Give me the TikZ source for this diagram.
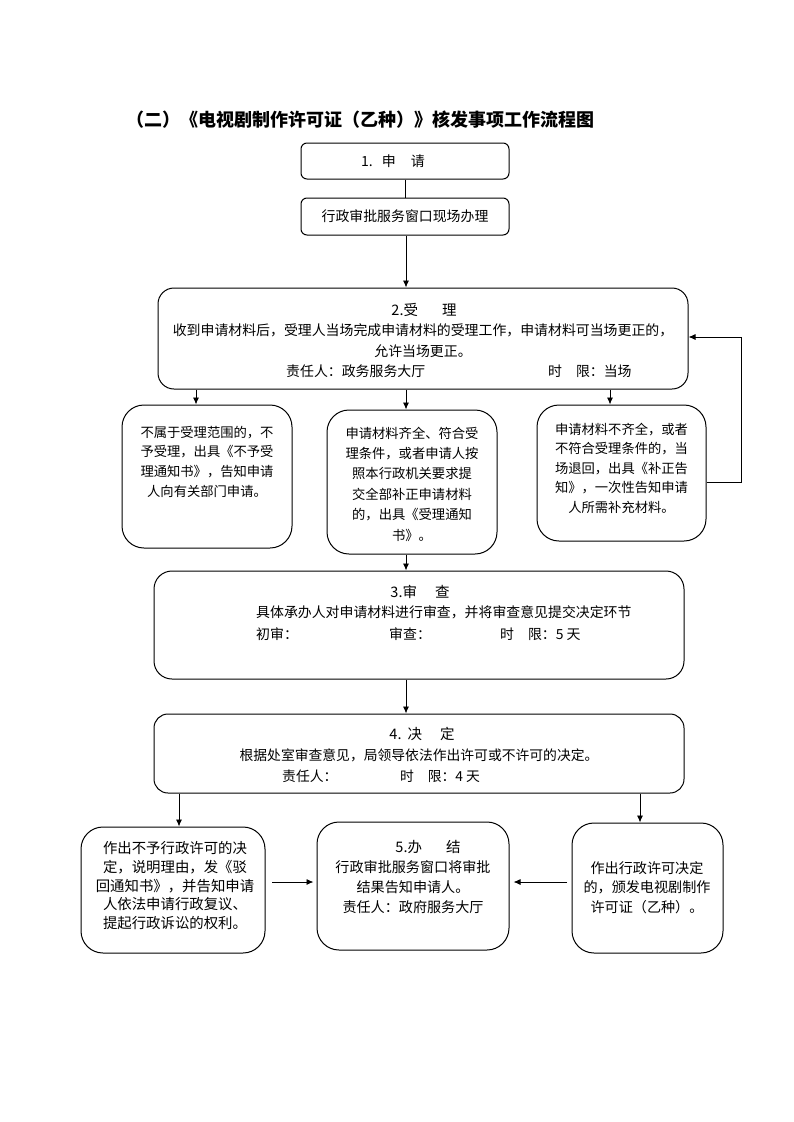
\documentclass[tikz,border=0pt]{standalone}
\usepackage{fontspec}
\setmainfont{Noto Sans CJK SC}
\usetikzlibrary{arrows.meta}
\tikzset{
  box/.style={draw, line width=1pt, rounded corners=#1, inner sep=0pt},
  box/.default=15pt,
  txt/.style={inner sep=0pt, align=center},
  arr/.style={line width=0.9pt, -{Latex[length=7pt,width=6pt]}},
  plain/.style={line width=0.9pt},
}
\newcommand{\fs}[2]{\fontsize{#1}{#2}\selectfont}
\begin{document}
\begin{tikzpicture}[x=1pt,y=-1pt]
\useasboundingbox (0,0) rectangle (793,1122);
% title
\node[txt, font=\fs{18}{20}\bfseries, anchor=west] (title) at (126,120) {（二）《电视剧制作许可证（乙种）》核发事项工作流程图};

% boxes
\node[box=6pt, minimum width=208pt, minimum height=36pt] (b1) at (405,161) {};
\node[box=6pt, minimum width=208pt, minimum height=37pt] (b1b) at (405,216.5) {};
\node[box=16pt, minimum width=530pt, minimum height=101pt] (b2) at (423,338.5) {};
\node[box=22pt, minimum width=170pt, minimum height=143pt] (bA) at (207,476.5) {};
\node[box=22pt, minimum width=170pt, minimum height=144pt] (bB) at (412,482) {};
\node[box=22pt, minimum width=169pt, minimum height=136pt] (bC) at (621.5,473) {};
\node[box=18pt, minimum width=530pt, minimum height=108pt] (b3) at (419,625) {};
\node[box=14pt, minimum width=530pt, minimum height=79pt] (b4) at (419,753.5) {};
\node[box=22pt, minimum width=184pt, minimum height=126pt] (bD) at (173,890) {};
\node[box=22pt, minimum width=192pt, minimum height=128pt] (bE) at (413,886) {};
\node[box=22pt, minimum width=151pt, minimum height=130pt] (bF) at (647.5,888) {};

% texts
\node[txt, font=\fs{14}{16}] (t1) at (393,161) {1.\hspace{9pt}申\hspace{15pt}请};
\node[txt, font=\fs{13.9}{16}] (t1b) at (405,216.5) {行政审批服务窗口现场办理};

\node[txt, font=\fs{14.5}{16}] (t2h) at (424,310) {2.受\hspace{24pt}理};
\node[txt, font=\fs{13.9}{20.5}] (t2a) at (423,340.5) {收到申请材料后，受理人当场完成申请材料的受理工作，申请材料可当场更正的，\\允许当场更正。};
\node[txt, font=\fs{13.9}{16}, anchor=west] (t2b) at (286,371) {责任人：政务服务大厅};
\node[txt, font=\fs{13.9}{16}, anchor=west] (t2c) at (548,371) {时\hspace{1em}限：当场};

\node[txt, font=\fs{13.3}{19.7}] (tA) at (207,461.5) {不属于受理范围的，不\\予受理，出具《不予受\\理通知书》，告知申请\\人向有关部门申请。};
\node[txt, font=\fs{13.3}{20.4}] (tB) at (412,484) {申请材料齐全、符合受\\理条件，或者申请人按\\照本行政机关要求提\\交全部补正申请材料\\的，出具《受理通知\\书》。};
\node[txt, font=\fs{13.3}{19.5}] (tC) at (621.5,468) {申请材料不齐全，或者\\不符合受理条件的，当\\场退回，出具《补正告\\知》，一次性告知申请\\人所需补充材料。};

\node[txt, font=\fs{14.5}{16}] (t3h) at (420,592) {3.审\hspace{18pt}查};
\node[txt, font=\fs{13.9}{16}, anchor=west] (t3a) at (256,612) {具体承办人对申请材料进行审查，并将审查意见提交决定环节};
\node[txt, font=\fs{13.9}{16}, anchor=west] (t3b) at (256,634) {初审：};
\node[txt, font=\fs{13.9}{16}, anchor=west] (t3c) at (389,634) {审查：};
\node[txt, font=\fs{13.9}{16}, anchor=west] (t3d) at (500,634) {时\hspace{1em}限：5 天};

\node[txt, font=\fs{14.5}{16}] (t4h) at (422,734) {4.\hspace{6pt}决\hspace{18pt}定};
\node[txt, font=\fs{13.8}{16}] (t4a) at (419,755) {根据处室审查意见，局领导依法作出许可或不许可的决定。};
\node[txt, font=\fs{13.8}{16}, anchor=west] (t4b) at (282,776) {责任人：};
\node[txt, font=\fs{13.8}{16}, anchor=west] (t4c) at (400,776) {时\hspace{1em}限：4 天};

\node[txt, font=\fs{14.4}{18.75}] (tD) at (175,885.6) {作出不予行政许可的决\\定，说明理由，发《驳\\回通知书》，并告知申请\\人依法申请行政复议、\\提起行政诉讼的权利。};
\node[txt, font=\fs{14.5}{16}] (tEh) at (428,847) {5.办\hspace{24pt}结};
\node[txt, font=\fs{14.1}{20}] (tE) at (413,887) {行政审批服务窗口将审批\\结果告知申请人。\\责任人：政府服务大厅};
\node[txt, font=\fs{14.1}{19.5}] (tF) at (647,887.5) {作出行政许可决定\\的，颁发电视剧制作\\许可证（乙种）。};

% helper coordinates
\coordinate (xA) at (196,0);
\coordinate (xM) at (406,0);
\coordinate (xC) at (610,0);
\coordinate (xL) at (179,0);
\coordinate (xR) at (640,0);
\coordinate (xFB) at (741,0);
\coordinate (yFB1) at (0,482);
\coordinate (yFB2) at (0,337);
\coordinate (yH) at (0,882);
\coordinate (dS) at (272,882);
\coordinate (fS) at (567,882);

% connectors
\draw[plain] (b1.south) -- (b1b.north);
\draw[arr] (xM |- b1b.south) -- (xM |- b2.north);
\draw[arr] (xA |- b2.south) -- (xA |- bA.north);
\draw[arr] (xM |- b2.south) -- (xM |- bB.north);
\draw[arr] (xC |- b2.south) -- (xC |- bC.north);
\draw[arr] (bC.east |- yFB1) -| (xFB |- yFB2) -- (b2.east |- yFB2);
\draw[arr] (xM |- bB.south) -- (xM |- b3.north);
\draw[arr] (xM |- b3.south) -- (xM |- b4.north);
\draw[arr] (xL |- b4.south) -- (xL |- bD.north);
\draw[arr] (xR |- b4.south) -- (xR |- bF.north);
\draw[arr] (dS) -- ([xshift=-3pt]bE.west |- yH);
\draw[arr] (fS) -- ([xshift=4pt]bE.east |- yH);
\end{tikzpicture}
\end{document}
